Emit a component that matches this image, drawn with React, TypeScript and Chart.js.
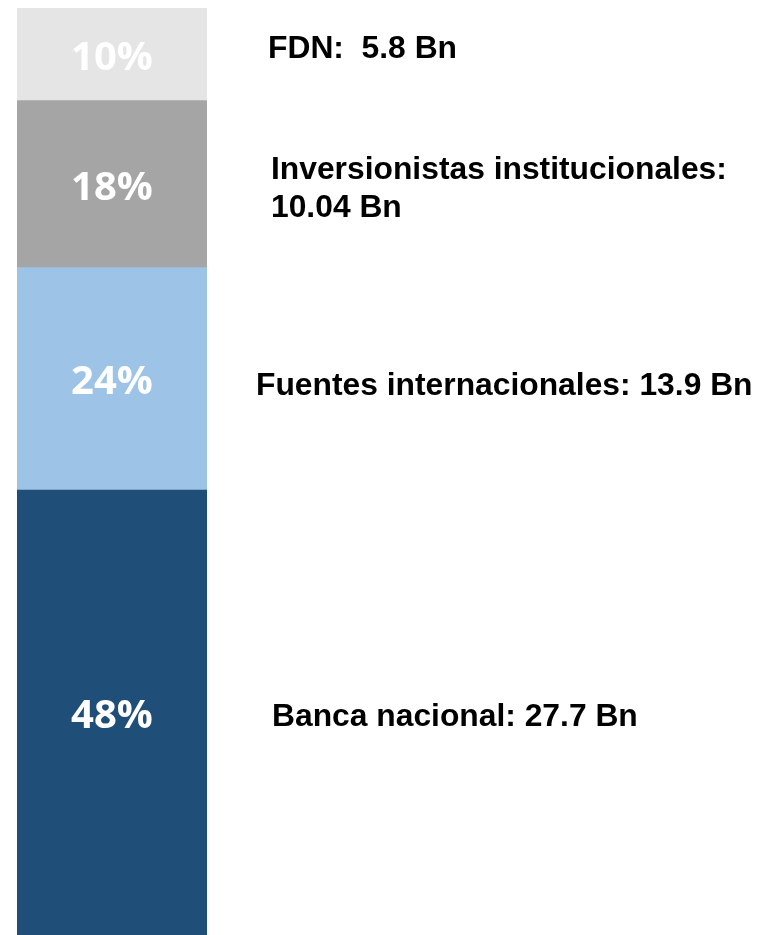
import React, { useEffect, useRef } from "react";
import { Chart, registerables } from "chart.js";

Chart.register(...registerables);

// ---- data ----
const categories = ["Total"];
const segmentNames = ["Banca nacional", "Fuentes internacionales", "Inversionistas institucionales", "FDN"];
const segmentShares = [48, 24, 18, 10];
const segmentAmountsBn = ["27.7", "13.9", "10.04", "5.8"];
const shareLabels = ["48%", "24%", "18%", "10%"];
const sideLabelLines = [
  ["Banca nacional: 27.7 Bn"],
  ["Fuentes internacionales: 13.9 Bn"],
  ["Inversionistas institucionales:", "10.04 Bn"],
  ["FDN:  5.8 Bn"],
];

// ---- style ----
const segmentColors = ["#1F4E79", "#9DC3E6", "#A5A5A5", "#E5E5E5"];
const sideLabelX = [272, 256, 271, 268];
const sideLabelNudgeY = [2, 5, 2, -8];

const labelPlugin = {
  id: "segmentLabels",
  afterDatasetsDraw(chart: any) {
    const ctx = chart.ctx as CanvasRenderingContext2D;
    ctx.save();
    chart.data.datasets.forEach((_ds: any, i: number) => {
      const meta = chart.getDatasetMeta(i);
      const el: any = meta.data[0];
      if (!el) return;
      const cx = el.x;
      const cy = (el.y + el.base) / 2;
      // percentage inside bar
      ctx.fillStyle = "#FFFFFF";
      ctx.font = "bold 40px 'Open Sans', sans-serif";
      ctx.textAlign = "center";
      ctx.textBaseline = "alphabetic";
      ctx.fillText(shareLabels[i], cx, cy + 15.5);
      // side label
      const lines = sideLabelLines[i];
      const lh = 38;
      ctx.fillStyle = "#000000";
      ctx.font = "bold 31.8px 'Liberation Sans', Arial, sans-serif";
      ctx.textAlign = "left";
      const first = cy - ((lines.length - 1) * lh) / 2 + 11.5 + sideLabelNudgeY[i];
      lines.forEach((line, k) => {
        ctx.fillText(line, sideLabelX[i], first + k * lh);
      });
    });
    ctx.restore();
  },
};

export default function App() {
  const canvasRef = useRef<HTMLCanvasElement | null>(null);

  useEffect(() => {
    if (!canvasRef.current) return;
    const chart = new Chart(canvasRef.current, {
      type: "bar",
      data: {
        labels: categories,
        datasets: segmentNames.map((name, i) => ({
          label: `${name}: ${segmentAmountsBn[i]} Bn`,
          data: [segmentShares[i]],
          backgroundColor: segmentColors[i],
          borderWidth: 0,
          barPercentage: 1,
          categoryPercentage: 1,
        })),
      },
      options: {
        responsive: false,
        animation: false,
        layout: { padding: { top: 8, bottom: 0, left: 17, right: 552 } },
        plugins: {
          legend: { display: false },
          tooltip: { enabled: false },
        },
        scales: {
          x: { stacked: true, display: false },
          y: { stacked: true, display: false, min: 0, max: 100 },
        },
      },
      plugins: [labelPlugin],
    });
    return () => chart.destroy();
  }, []);

  return (
    <div style={{ position: "fixed", left: 0, top: 0, width: 759, height: 935, background: "#FFFFFF" }}>
      <canvas ref={canvasRef} width={759} height={935} style={{ display: "block" }} />
    </div>
  );
}
